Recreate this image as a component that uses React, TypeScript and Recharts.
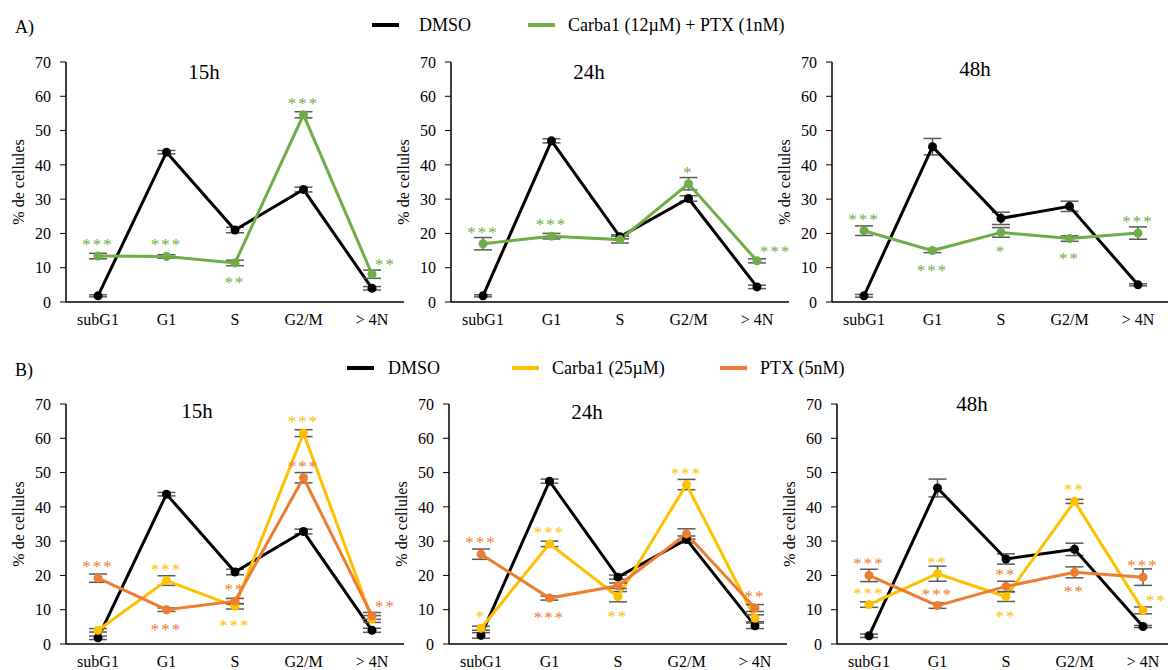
import React from 'react'
import { LineChart, Line, XAxis, YAxis, ErrorBar } from 'recharts'

const phases = ['subG1', 'G1', 'S', 'G2/M', '> 4N']
const yTicks = [0, 10, 20, 30, 40, 50, 60, 70]

const BLACK = '#000000'
const GREEN = '#70AD47'
const YELLOW = '#FFC000'
const ORANGE = '#ED7D31'
const FONT = '"Liberation Serif", "Times New Roman", serif'

// A) DMSO vs Carba1 (12µM) + PTX (1nM)
const a15Dmso = [1.8, 43.7, 21, 32.8, 4]
const a15DmsoErr = [0.3, 0.5, 0.8, 0.7, 0.5]
const a15Combo = [13.4, 13.3, 11.4, 54.6, 8.1]
const a15ComboErr = [0.8, 0.5, 0.8, 0.9, 1.2]
const a15ComboSig = ['***', '***', '**', '***', '**']
const a15ComboPos = ['up', 'up', 'down', 'up', 'right']

const a24Dmso = [1.8, 47, 19, 30.2, 4.4]
const a24DmsoErr = [0.3, 0.6, 0.6, 0.8, 0.5]
const a24Combo = [17, 19.2, 18.2, 34.5, 12]
const a24ComboErr = [1.8, 0.8, 1.0, 1.8, 0.6]
const a24ComboSig = ['***', '***', '', '*', '***']
const a24ComboPos = ['up', 'up', 'up', 'up', 'right']

const a48Dmso = [1.8, 45.3, 24.4, 27.9, 5]
const a48DmsoErr = [0.4, 2.4, 1.8, 1.5, 0.3]
const a48Combo = [20.8, 15, 20.3, 18.5, 20.1]
const a48ComboErr = [1.4, 0.6, 1.4, 0.8, 1.8]
const a48ComboSig = ['***', '***', '*', '**', '***']
const a48ComboPos = ['up', 'down', 'down', 'down', 'up']

// B) DMSO vs Carba1 (25µM) vs PTX (5nM)
const b15Dmso = [1.8, 43.7, 21, 32.8, 4]
const b15DmsoErr = [0.5, 0.5, 0.8, 0.7, 0.6]
const b15Carba = [4, 18.5, 11, 61.5, 7.3]
const b15CarbaErr = [0.5, 1.4, 0.8, 1.0, 1.0]
const b15CarbaSig = ['', '***', '***', '***', '']
const b15CarbaPos = ['up', 'up', 'down', 'up', 'up']
const b15Ptx = [19.2, 10, 12.5, 48.5, 8.2]
const b15PtxErr = [1.2, 0.5, 0.8, 1.5, 1.0]
const b15PtxSig = ['***', '***', '**', '***', '**']
const b15PtxPos = ['up', 'down', 'up', 'up', 'right']

const b24Dmso = [2.5, 47.5, 19.5, 30.5, 5.3]
const b24DmsoErr = [0.8, 0.6, 0.6, 1.0, 0.8]
const b24Carba = [4.6, 29.2, 13.8, 46.5, 7.5]
const b24CarbaErr = [0.6, 0.8, 1.5, 1.5, 1.0]
const b24CarbaSig = ['*', '***', '**', '***', '']
const b24CarbaPos = ['up', 'up', 'down', 'up', 'up']
const b24Ptx = [26.2, 13.4, 17, 32.1, 10.5]
const b24PtxErr = [1.5, 0.6, 0.8, 1.5, 1.0]
const b24PtxSig = ['***', '***', '', '', '**']
const b24PtxPos = ['up', 'down', 'up', 'up', 'up']

const b48Dmso = [2.4, 45.5, 24.8, 27.6, 5.1]
const b48DmsoErr = [0.5, 2.6, 1.5, 1.8, 0.3]
const b48Carba = [11.5, 20.5, 13.8, 41.6, 9.8]
const b48CarbaErr = [0.8, 2.2, 1.4, 0.6, 1.0]
const b48CarbaSig = ['***', '**', '**', '**', '**']
const b48CarbaPos = ['up', 'up', 'down', 'up', 'right']
const b48Ptx = [20, 11.2, 16.8, 20.9, 19.5]
const b48PtxErr = [1.8, 0.8, 1.5, 1.6, 2.4]
const b48PtxSig = ['***', '***', '**', '**', '***']
const b48PtxPos = ['up', 'up', 'up', 'down', 'up']

const noSig = ['', '', '', '', '']

type Series = { color: string; values: number[]; errors: number[]; sig: string[]; pos: string[] }

// dot + significance stars above / below / right of the point
function makeDot(color: string, sig: string[], pos: string[]) {
  return (props: any) => {
    const { cx, cy, index } = props
    const s = sig[index]
    const p = pos[index]
    let tx = cx
    let ty = cy - 6
    let anchor: 'middle' | 'start' = 'middle'
    if (p === 'down') ty = cy + 25
    if (p === 'right') {
      tx = cx + 3
      ty = cy - 4
      anchor = 'start'
    }
    return (
      <g key={`dot-${index}`}>
        <circle cx={cx} cy={cy} r={4.5} fill={color} />
        {s ? (
          <text x={tx} y={ty} textAnchor={anchor} fill={color} fontSize={17} letterSpacing={2} fontFamily={FONT}>
            {s}
          </text>
        ) : null}
      </g>
    )
  }
}

interface PanelProps {
  axisX: number
  plotTop: number
  title: string
  titleX: number
  titleY: number
  series: Series[]
}

function Panel({ axisX, plotTop, title, titleX, titleY, series }: PanelProps) {
  const data = phases.map((phase, i) => {
    const row: any = { phase }
    series.forEach((s, k) => {
      row[`v${k}`] = s.values[i]
      row[`e${k}`] = s.errors[i]
    })
    return row
  })

  return (
    <>
      <div style={{ position: 'absolute', left: axisX - 58, top: plotTop - 12 }}>
        <LineChart width={426} height={278} data={data} margin={{ top: 12, right: 30, bottom: 0, left: 0 }}>
          <XAxis
            dataKey="phase"
            padding={{ left: 32, right: 32 }}
            interval={0}
            tickLine={false}
            tickMargin={6}
            height={26}
            axisLine={{ stroke: '#000', strokeWidth: 1.5 }}
            tick={{ fill: '#000', fontSize: 16, fontFamily: FONT }}
          />
          <YAxis
            domain={[0, 70]}
            ticks={yTicks}
            interval={0}
            width={58}
            tickSize={6}
            tickMargin={9}
            axisLine={{ stroke: '#000', strokeWidth: 1.5 }}
            tickLine={{ stroke: '#000' }}
            tick={{ fill: '#000', fontSize: 16, fontFamily: FONT }}
            label={{
              value: '% de cellules',
              angle: -90,
              position: 'insideLeft',
              offset: 10,
              style: { textAnchor: 'middle', fill: '#000', fontSize: 16, fontFamily: FONT },
            }}
          />
          {series.map((s, k) => (
            <Line
              key={k}
              dataKey={`v${k}`}
              stroke={s.color}
              strokeWidth={3}
              dot={makeDot(s.color, s.sig, s.pos)}
              activeDot={false}
              isAnimationActive={false}
            >
              <ErrorBar dataKey={`e${k}`} width={9} stroke="#595959" strokeWidth={1.5} direction="y" isAnimationActive={false} />
            </Line>
          ))}
        </LineChart>
      </div>
      <div
        style={{
          position: 'absolute',
          left: titleX,
          top: titleY - 11,
          transform: 'translateX(-50%)',
          fontSize: 21,
          lineHeight: '21px',
          whiteSpace: 'nowrap',
        }}
      >
        {title}
      </div>
    </>
  )
}

function LegendItem({ x, y, color, text, textX }: { x: number; y: number; color: string; text: string; textX: number }) {
  return (
    <>
      <div style={{ position: 'absolute', left: x, top: y - 2, width: 27, height: 4, background: color }} />
      <div style={{ position: 'absolute', left: textX, top: y - 9, fontSize: 18, lineHeight: '18px', whiteSpace: 'nowrap' }}>
        {text}
      </div>
    </>
  )
}

export default function App() {
  const dmso = (values: number[], errors: number[]): Series => ({ color: BLACK, values, errors, sig: noSig, pos: noSig })

  return (
    <div
      style={{
        position: 'absolute',
        left: 0,
        top: 0,
        width: 1168,
        height: 670,
        overflow: 'hidden',
        background: '#fff',
        fontFamily: FONT,
        color: '#000',
      }}
    >
      <div style={{ position: 'absolute', left: 15, top: 18, fontSize: 18, lineHeight: '18px' }}>A)</div>
      <LegendItem x={372} y={25} color={BLACK} text="DMSO" textX={419} />
      <LegendItem x={528} y={25} color={GREEN} text="Carba1  (12µM) + PTX (1nM)" textX={568} />

      <Panel axisX={66} plotTop={62} title="15h" titleX={204} titleY={73} series={[dmso(a15Dmso, a15DmsoErr), { color: GREEN, values: a15Combo, errors: a15ComboErr, sig: a15ComboSig, pos: a15ComboPos }]} />
      <Panel axisX={451} plotTop={62} title="24h" titleX={589} titleY={73} series={[dmso(a24Dmso, a24DmsoErr), { color: GREEN, values: a24Combo, errors: a24ComboErr, sig: a24ComboSig, pos: a24ComboPos }]} />
      <Panel axisX={832} plotTop={62} title="48h" titleX={975} titleY={70} series={[dmso(a48Dmso, a48DmsoErr), { color: GREEN, values: a48Combo, errors: a48ComboErr, sig: a48ComboSig, pos: a48ComboPos }]} />

      <div style={{ position: 'absolute', left: 15, top: 361, fontSize: 18, lineHeight: '18px' }}>B)</div>
      <LegendItem x={347} y={368} color={BLACK} text="DMSO" textX={388} />
      <LegendItem x={512} y={368} color={YELLOW} text="Carba1 (25µM)" textX={552} />
      <LegendItem x={720} y={368} color={ORANGE} text="PTX (5nM)" textX={760} />

      <Panel
        axisX={66}
        plotTop={404}
        title="15h"
        titleX={197}
        titleY={412}
        series={[
          dmso(b15Dmso, b15DmsoErr),
          { color: YELLOW, values: b15Carba, errors: b15CarbaErr, sig: b15CarbaSig, pos: b15CarbaPos },
          { color: ORANGE, values: b15Ptx, errors: b15PtxErr, sig: b15PtxSig, pos: b15PtxPos },
        ]}
      />
      <Panel
        axisX={449}
        plotTop={404}
        title="24h"
        titleX={587}
        titleY={413}
        series={[
          dmso(b24Dmso, b24DmsoErr),
          { color: YELLOW, values: b24Carba, errors: b24CarbaErr, sig: b24CarbaSig, pos: b24CarbaPos },
          { color: ORANGE, values: b24Ptx, errors: b24PtxErr, sig: b24PtxSig, pos: b24PtxPos },
        ]}
      />
      <Panel
        axisX={837}
        plotTop={404}
        title="48h"
        titleX={972}
        titleY={405}
        series={[
          dmso(b48Dmso, b48DmsoErr),
          { color: YELLOW, values: b48Carba, errors: b48CarbaErr, sig: b48CarbaSig, pos: b48CarbaPos },
          { color: ORANGE, values: b48Ptx, errors: b48PtxErr, sig: b48PtxSig, pos: b48PtxPos },
        ]}
      />
    </div>
  )
}
